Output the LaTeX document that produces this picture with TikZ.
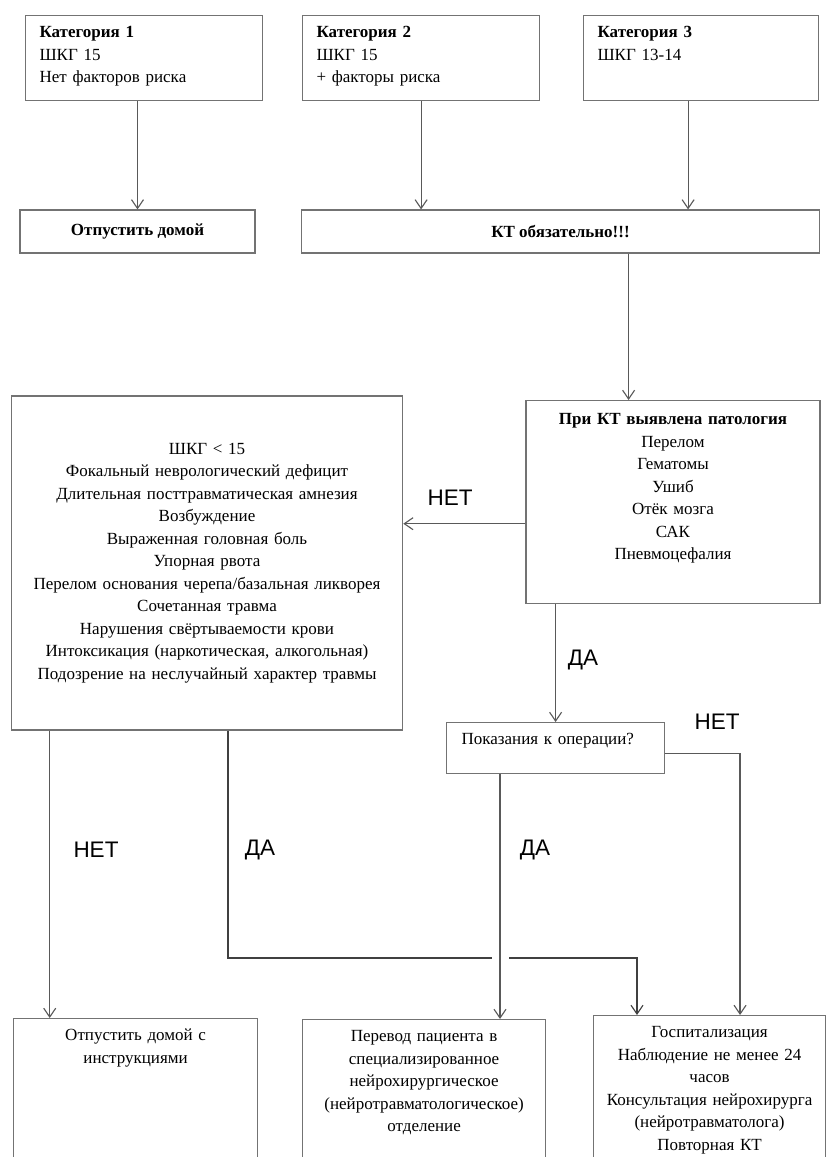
\documentclass[tikz,border=0pt]{standalone}
\usepackage{fontspec}
\setmainfont{Liberation Serif}
\newfontfamily\labelfont{Liberation Sans}
\usetikzlibrary{calc,arrows.meta}
\def\txt{\fontsize{12.1}{16}\selectfont}
\tikzset{
	box/.style={draw=black!55, line width=0.8pt, font=\txt},
	topbox/.style={box, anchor=north west, align=left, inner xsep=0.35cm, inner ysep=0.2cm, text width=5.225cm, text height=0.35cm, text depth=1.375cm},
	lowbox/.style={box, anchor=north west, align=center, inner xsep=0.1cm, inner ysep=0.2cm, text height=0.35cm, text depth=4cm},
	conn/.style={draw=black!65, line width=0.8pt, -{Straight Barb[length=0.22cm,width=0.3cm]}},
	yesno/.style={font=\labelfont\fontsize{16}{18}\selectfont, inner sep=0pt}
}

\begin{document}
\begin{tikzpicture}[x=0.025cm, y=-0.025cm]
			%%%%% START %%%%%
			\useasboundingbox (0, 0) rectangle (826, 1157);
			\clip (0, 0) rectangle (826, 1157);
			
			\node[topbox] (cat1) at (25, 15) {\textbf{Категория 1}\\ШКГ 15\\Нет факторов риска};
			\node[topbox] (cat2) at (302, 15) {\textbf{Категория 2}\\ШКГ 15\\+ факторы риска};
			\node[topbox, text width=5.175cm] (cat3) at (583, 15) {\textbf{Категория 3}\\ШКГ 13-14};
			
			\node[box, font=\txt\bfseries, minimum width=5.875cm, minimum height=1.075cm] (home) at (137.5, 231.5) {Отпустить домой};
			\node[box, font=\txt\bfseries, minimum width=12.925cm, minimum height=1.075cm] (kt) at (560.5, 231.5) {КТ обязательно!!!};
			
			\node[box, anchor=north, align=center, text width=7.15cm, inner xsep=0.1cm, inner ysep=0.25cm, text height=0.35cm, text depth=4.225cm] (path) at (673, 400)
				{\textbf{При КТ выявлена патология}\\Перелом\\Гематомы\\Ушиб\\Отёк мозга\\САК\\Пневмоцефалия};
			
			\node[box, align=center, text width=9.55cm, minimum width=9.75cm, minimum height=8.35cm] (crit) at (207, 563)
				{ШКГ < 15\\Фокальный неврологический дефицит\\Длительная посттравматическая амнезия\\Возбуждение\\Выраженная головная боль\\Упорная рвота\\Перелом основания черепа/базальная ликворея\\Сочетанная травма\\Нарушения свёртываемости крови\\Интоксикация (наркотическая, алкогольная)\\Подозрение на неслучайный характер травмы};
			
			\node[box, anchor=north west, align=left, text width=4.7cm, inner xsep=0.375cm, inner ysep=0.2cm, text height=0.35cm, text depth=0.525cm] (oper) at (446, 722) {Показания к операции?};
			
			\node[lowbox, text width=5.9cm] (home2) at (13, 1018) {Отпустить домой с\\инструкциями};
			\node[lowbox, text width=5.875cm] (transfer) at (302, 1019) {Перевод пациента в\\специализированное\\нейрохирургическое\\(нейротравматологическое)\\отделение};
			\node[lowbox, text width=5.6cm] (hosp) at (593, 1015) {Госпитализация\\Наблюдение не менее 24\\часов\\Консультация нейрохирурга\\(нейротравматолога)\\Повторная КТ};
			
			\node[yesno] (no1) at (450, 498) {НЕТ};
			\node[yesno] (yes1) at (583, 660) {ДА};
			\node[yesno] (no2) at (717, 722) {НЕТ};
			\node[yesno] (no3) at (96, 850) {НЕТ};
			\node[yesno] (yes2) at (260, 850) {ДА};
			\node[yesno] (yes3) at (535, 850) {ДА};
			
			\draw[conn] (cat1.south -| home.north) -- (home.north);
			\draw[conn] (cat2.south) -- (cat2.south |- kt.north);
			\draw[conn] ([xshift=-0.325cm]cat3.south) -- ([xshift=-0.325cm]cat3.south |- kt.north);
			\draw[conn] ([xshift=-1.11cm]path.north |- kt.south) -- ([xshift=-1.11cm]path.north);
			
			\draw[conn] ([yshift=-0.54cm]path.west) -- ([yshift=-0.54cm]path.west -| crit.east);
			\draw[conn] (oper.north |- path.south) -- (oper.north);
			
			\coordinate (bend) at (228, 958);
			\draw[conn] ([xshift=0.975cm]crit.south west) -- ([xshift=0.975cm]crit.south west |- home2.north);
			\draw[conn, draw=black!75] (crit.south -| bend) -- (bend) -| ([xshift=1.1cm]hosp.north west);
			\draw[conn, preaction={draw=white, line width=0.425cm, -, shorten <=0.3cm, shorten >=0.6cm}] ([xshift=1.35cm]oper.south west) -- ([xshift=1.35cm]oper.south west |- transfer.north);
			\draw[conn] ([yshift=-0.14cm]oper.east) -| ([xshift=3.675cm]hosp.north west);
			
			%%%%% END %%%%%
\end{tikzpicture}
\end{document}
